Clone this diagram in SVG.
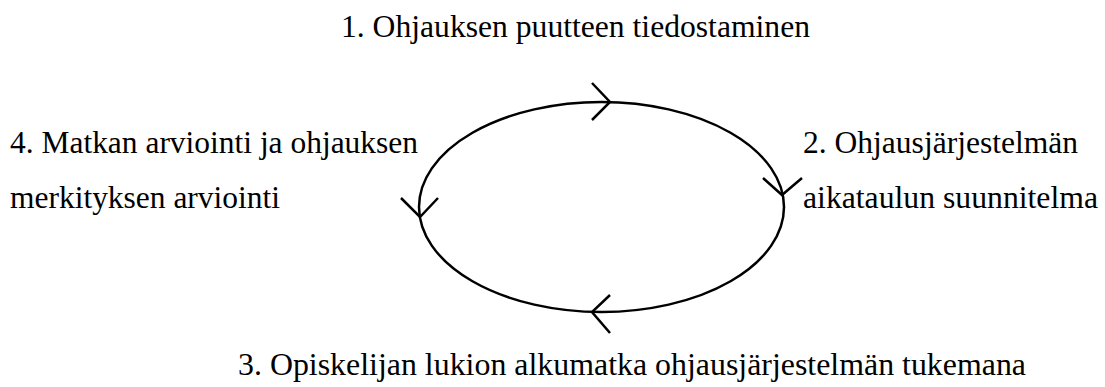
<svg xmlns="http://www.w3.org/2000/svg" width="1105" height="387" viewBox="0 0 1105 387">
<style>
text{font-family:'Liberation Serif','DejaVu Serif','Times New Roman',serif;font-size:31.5px;fill:#000}
.c{fill:none;stroke:#000;stroke-width:2.5}
</style>
<rect width="1105" height="387" fill="#fff"/>
<g id="connectors">
<ellipse class="c" cx="601.5" cy="207" rx="182.5" ry="105"/>
<polyline class="c" points="592,83 610,102 592,120"/>
<polyline class="c" points="763,178 782,195 802,178"/>
<polyline class="c" points="610,295 592,312 610,333"/>
<polyline class="c" points="401,198 420,217 438,198"/>
</g>
<g id="n1"><text x="341" y="37" textLength="469" lengthAdjust="spacingAndGlyphs">1. Ohjauksen puutteen tiedostaminen</text></g>
<g id="n2"><text x="803" y="153" textLength="275" lengthAdjust="spacingAndGlyphs">2. Ohjausjärjestelmän</text><text x="803" y="208" textLength="295" lengthAdjust="spacingAndGlyphs">aikataulun suunnitelma</text></g>
<g id="n3"><text x="238" y="375" textLength="788" lengthAdjust="spacingAndGlyphs">3. Opiskelijan lukion alkumatka ohjausjärjestelmän tukemana</text></g>
<g id="n4"><text x="10" y="153" textLength="408" lengthAdjust="spacingAndGlyphs">4. Matkan arviointi ja ohjauksen</text><text x="10" y="208" textLength="270" lengthAdjust="spacingAndGlyphs">merkityksen arviointi</text></g>
</svg>
